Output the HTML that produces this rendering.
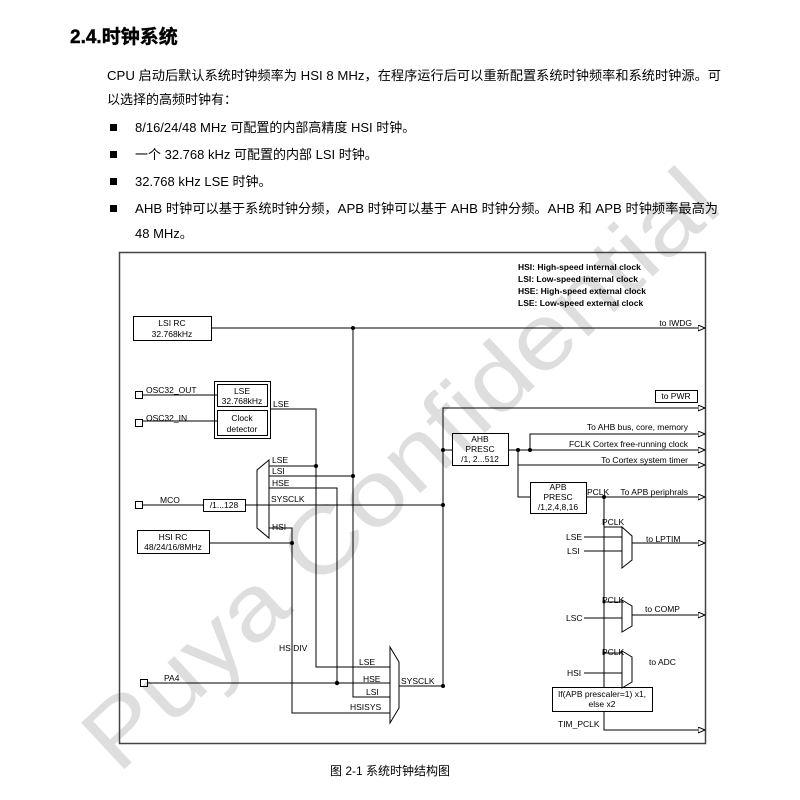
<!DOCTYPE html>
<html><head><meta charset="utf-8"><style>
body{margin:0;background:#fff;width:800px;height:800px;overflow:hidden}
svg{display:block}
text{font-family:"Liberation Sans","Noto Sans CJK SC",sans-serif;fill:#000}
.s{font-size:8.5px}
.b{font-size:13px}
</style></head><body>
<svg width="800" height="800" viewBox="0 0 800 800" xmlns="http://www.w3.org/2000/svg">
<defs><marker id="a" markerWidth="8" markerHeight="8" refX="7" refY="3" orient="auto" markerUnits="userSpaceOnUse"><path d="M0,0 L7,3 L0,6 Z" fill="#fff" stroke="#000" stroke-width="1"/></marker></defs>
<text transform="translate(118,775) rotate(-43)" style="font-size:92px;fill:#dedede" textLength="830" lengthAdjust="spacingAndGlyphs">Puya Confidential</text>
<text x="70" y="43" style="font-size:19px;font-weight:bold" stroke="#000" stroke-width="0.4">2.4.时钟系统</text>
<text x="107" y="80" class="b" textLength="614" lengthAdjust="spacingAndGlyphs">CPU 启动后默认系统时钟频率为 HSI 8 MHz，在程序运行后可以重新配置系统时钟频率和系统时钟源。可</text>
<text x="107" y="104" class="b">以选择的高频时钟有：</text>
<g class="b">
<rect x="110" y="124" width="7" height="7"/><text x="135" y="132">8/16/24/48 MHz 可配置的内部高精度 HSI 时钟。</text>
<rect x="110" y="151" width="7" height="7"/><text x="135" y="159">一个 32.768 kHz 可配置的内部 LSI 时钟。</text>
<rect x="110" y="178" width="7" height="7"/><text x="135" y="186">32.768 kHz LSE 时钟。</text>
<rect x="110" y="205" width="7" height="7"/><text x="135" y="213" textLength="583" lengthAdjust="spacingAndGlyphs">AHB 时钟可以基于系统时钟分频，APB 时钟可以基于 AHB 时钟分频。AHB 和 APB 时钟频率最高为</text>
<text x="135" y="238">48 MHz。</text>
</g>
<text x="330" y="775" style="font-size:12px">图 2-1 系统时钟结构图</text>
<g fill="none" stroke="#000" stroke-width="1">
<rect x="119.5" y="252.5" width="586" height="491" stroke="#444" stroke-width="1.5"/>
<rect x="133.5" y="316.5" width="78" height="24"/>
<rect x="214.5" y="381.5" width="56" height="57"/>
<rect x="217.5" y="384.5" width="50" height="22"/>
<rect x="217.5" y="410.5" width="50" height="25"/>
<rect x="135.5" y="391.5" width="7" height="7"/>
<rect x="135.5" y="419.5" width="7" height="7"/>
<rect x="135.5" y="501.5" width="7" height="7"/>
<rect x="203.5" y="499.5" width="42" height="12"/>
<rect x="137.5" y="530.5" width="72" height="23"/>
<rect x="140.5" y="679.5" width="7" height="7"/>
<rect x="452.5" y="433.5" width="56" height="32"/>
<rect x="530.5" y="482.5" width="56" height="31"/>
<rect x="655.5" y="390.5" width="42" height="12"/>
<rect x="552.5" y="687.5" width="100" height="24"/>
<path d="M269,460 L257,470 L257,528 L269,538 Z"/>
<path d="M390,647 L399,662 L399,708 L390,723 Z"/>
<path d="M622,527 L632,536 L632,560 L622,568 Z"/>
<path d="M622,600 L632,606 L632,626 L622,632 Z"/>
<path d="M622,651 L632,657 L632,682 L622,688 Z"/>
<path d="M211,328 H705" marker-end="url(#a)"/>
<path d="M353,328 V697 H390"/>
<path d="M142,395 H217 M142,421 H217"/>
<path d="M270,409 H316 V667 H390"/>
<path d="M269,466 H316 M269,476 H353 M269,488 H337 V683 M245,505 H443 M142,505 H203 M245,505 H257"/>
<path d="M269,528 H292 V713 H390 M209,543 H292"/>
<path d="M147,683 H390"/>
<path d="M399,686 H443 V408 H705" marker-end="url(#a)"/>
<path d="M443,450 H452"/>
<path d="M508,450 H705" marker-end="url(#a)"/>
<path d="M530,450 V434 H705" marker-end="url(#a)"/>
<path d="M518,450 V497 H530 M518,465 H705" marker-end="url(#a)"/>
<path d="M586,497 H705" marker-end="url(#a)"/>
<path d="M604,497 V687 M604,711 V730 H705" marker-end="url(#a)"/>
<path d="M604,527 H622 M584,537 H622 M584,551 H622 M632,543 H705" marker-end="url(#a)"/>
<path d="M604,602 H622 M584,618 H622 M632,615 H705" marker-end="url(#a)"/>
<path d="M604,653 H622 M584,673 H622"/>
</g>
<g fill="#000">
<circle cx="353" cy="328" r="2"/><circle cx="316" cy="466" r="2"/><circle cx="353" cy="476" r="2"/>
<circle cx="443" cy="505" r="2"/><circle cx="292" cy="543" r="2"/><circle cx="337" cy="683" r="2.2"/>
<circle cx="443" cy="686" r="2"/><circle cx="443" cy="450" r="2"/><circle cx="518" cy="450" r="2"/>
<circle cx="530" cy="450" r="2"/><circle cx="604" cy="497" r="2"/><circle cx="604" cy="602" r="1.5"/><circle cx="604" cy="653" r="1.5"/>
</g>
<g class="s">
<text x="172" y="326" text-anchor="middle">LSI RC</text><text x="172" y="337" text-anchor="middle">32.768kHz</text>
<text x="242" y="394" text-anchor="middle">LSE</text><text x="242" y="404" text-anchor="middle">32.768kHz</text>
<text x="242" y="421" text-anchor="middle">Clock</text><text x="242" y="432" text-anchor="middle">detector</text>
<text x="146" y="393">OSC32_OUT</text><text x="146" y="421">OSC32_IN</text>
<text x="273" y="407">LSE</text>
<text x="272" y="463">LSE</text><text x="272" y="474">LSI</text><text x="272" y="486">HSE</text><text x="271" y="502">SYSCLK</text><text x="272" y="530">HSI</text>
<text x="160" y="503">MCO</text><text x="224" y="508" text-anchor="middle">/1...128</text>
<text x="173" y="540" text-anchor="middle">HSI RC</text><text x="173" y="550" text-anchor="middle">48/24/16/8MHz</text>
<text x="279" y="651">HSIDIV</text><text x="164" y="681">PA4</text>
<text x="359" y="665">LSE</text><text x="363" y="682">HSE</text><text x="366" y="695">LSI</text><text x="350" y="710">HSISYS</text>
<text x="401" y="684">SYSCLK</text>
<text x="480" y="442" text-anchor="middle">AHB</text><text x="480" y="452" text-anchor="middle">PRESC</text><text x="480" y="462" text-anchor="middle">/1,  2...512</text>
<text x="558" y="490" text-anchor="middle">APB</text><text x="558" y="500" text-anchor="middle">PRESC</text><text x="558" y="510" text-anchor="middle">/1,2,4,8,16</text>
<text x="676" y="399" text-anchor="middle">to PWR</text>
<text x="692" y="326" text-anchor="end">to IWDG</text>
<text x="688" y="430" text-anchor="end">To AHB bus, core, memory</text>
<text x="688" y="447" text-anchor="end">FCLK Cortex free-running clock</text>
<text x="688" y="463" text-anchor="end">To Cortex system timer</text>
<text x="587" y="495">PCLK</text><text x="688" y="495" text-anchor="end">To APB periphrals</text>
<text x="602" y="525">PCLK</text><text x="566" y="540">LSE</text><text x="567" y="554">LSI</text><text x="646" y="542">to LPTIM</text>
<text x="602" y="603">PCLK</text><text x="566" y="621">LSC</text><text x="645" y="612">to COMP</text>
<text x="602" y="655">PCLK</text><text x="567" y="676">HSI</text><text x="649" y="665">to ADC</text>
<text x="602" y="697" text-anchor="middle">If(APB prescaler=1) x1,</text><text x="602" y="707" text-anchor="middle">else x2</text>
<text x="558" y="727">TIM_PCLK</text>
<text x="518" y="270" style="font-weight:bold">HSI:  High-speed internal clock</text>
<text x="518" y="282" style="font-weight:bold">LSI:  Low-speed internal clock</text>
<text x="518" y="294" style="font-weight:bold">HSE:  High-speed external clock</text>
<text x="518" y="306" style="font-weight:bold">LSE:  Low-speed external clock</text>
</g>
</svg>
</body></html>
